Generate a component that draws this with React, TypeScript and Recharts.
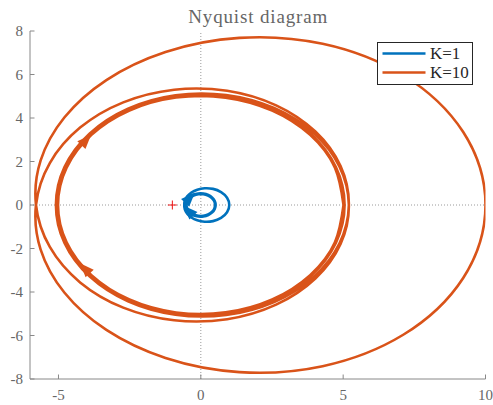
import React from 'react';
import { ComposedChart, Line, Scatter, XAxis, YAxis, ReferenceLine } from 'recharts';

// ---------- data ----------
const xTicks = [-5, 0, 5, 10];
const yTicks = [-8, -6, -4, -2, 0, 2, 4, 6, 8];

// K = 10, positive-frequency branch (real / imaginary parts)
const k10Re = [10, 9.217, 7.11, 4.279, 1.355, -1.24, -3.317, -4.794, -5.626, -5.79, -5.304, -4.24, -2.725, -0.935, 0.925, 2.645, 4.024, 4.909, 5.2,
  4.868, 3.954, 2.574, 0.891, -0.889, -2.557, -3.91, -4.789, -5.089, -4.776, -3.889, -2.536, -0.88, 0.879, 2.53, 3.873, 4.748, 5.05,
  4.744, 3.864, 2.522, 0.875, -0.875, -2.519, -3.857, -4.73, -5.032, -4.728, -3.853, -2.515, -0.873, 0.873, 2.513, 3.848, 4.72, 5.022,
  4.718, 3.845, 2.51, 0.871, -0.871, -2.509, -3.843, -4.714, -5.016, -4.714, -3.841, -2.508, -0.871, 0.87, 2.507, 3.841, 4.711, 5.013];
const k10Im = [0, -3.354, -5.966, -7.411, -7.684, -7.036, -5.745, -4.023, -2.048, 0, 1.93, 3.558, 4.72, 5.302, 5.25, 4.58, 3.377, 1.787, 0,
  -1.772, -3.318, -4.457, -5.056, -5.045, -4.428, -3.281, -1.743, 0, 1.738, 3.264, 4.392, 4.991, 4.987, 4.382, 3.25, 1.728, 0,
  -1.726, -3.243, -4.367, -4.964, -4.962, -4.362, -3.236, -1.722, 0, 1.721, 3.233, 4.355, 4.951, 4.95, 4.352, 3.229, 1.718, 0,
  -1.717, -3.227, -4.347, -4.943, -4.942, -4.346, -3.225, -1.716, 0, 1.715, 3.224, 4.343, 4.939, 4.938, 4.342, 3.223, 1.714, 0];

// K = 1, positive-frequency branch
const k1Re = [1, 0.9217, 0.711, 0.4279, 0.1355, -0.124, -0.3317, -0.4794, -0.5626, -0.579, -0.5304, -0.424, -0.2725, -0.0935, 0.0925, 0.2645, 0.4024, 0.4909, 0.52,
  0.4868, 0.3954, 0.2574, 0.0891, -0.0889, -0.2557, -0.391, -0.4789, -0.5089, -0.4776, -0.3889, -0.2536, -0.088, 0.0879, 0.253, 0.3873, 0.4748, 0.505,
  0.4744, 0.3864, 0.2522, 0.0875, -0.0875, -0.2519, -0.3857, -0.473, -0.5032, -0.4728, -0.3853, -0.2515, -0.0873, 0.0873, 0.2513, 0.3848, 0.472, 0.5022];
const k1Im = [0, -0.3354, -0.5966, -0.7411, -0.7684, -0.7036, -0.5745, -0.4023, -0.2048, 0, 0.193, 0.3558, 0.472, 0.5302, 0.525, 0.458, 0.3377, 0.1787, 0,
  -0.1772, -0.3318, -0.4457, -0.5056, -0.5045, -0.4428, -0.3281, -0.1743, 0, 0.1738, 0.3264, 0.4392, 0.4991, 0.4987, 0.4382, 0.325, 0.1728, 0,
  -0.1726, -0.3243, -0.4367, -0.4964, -0.4962, -0.4362, -0.3236, -0.1722, 0, 0.1721, 0.3233, 0.4355, 0.4951, 0.495, 0.4352, 0.3229, 0.1718, 0];

// direction arrows (positions on the curves)
const arrowK10Re = [-4.05, -4.05];
const arrowK10Im = [2.95, -2.95];
const arrowK1Re = [-0.405, -0.405];
const arrowK1Im = [0.295, -0.295];

const criticalRe = [-1];
const criticalIm = [0];

const seriesNames = ['K=1', 'K=10'];

// ---------- styling / geometry ----------
const W = 493;
const H = 405;
const PLOT_LEFT = 30;
const PLOT_RIGHT = 485.5;
const PLOT_TOP = 31;
const PLOT_BOTTOM = 379;
const SX = (PLOT_RIGHT - PLOT_LEFT) / 16;
const SY = (PLOT_BOTTOM - PLOT_TOP) / 16;
const BLUE = '#0072BD';
const ORANGE = '#D95319';
const AXIS = '#888888';
const TEXT = '#666666';
const FONT = '"Liberation Serif", "DejaVu Serif", serif';
const TICK = 4.5;
const LW = 2.6;

// full Nyquist contour: mirrored (negative-frequency) branch then positive branch
function contour(re: number[], im: number[]) {
  const pos = re.map((x, i) => ({ x, y: im[i] }));
  const neg = re.map((x, i) => ({ x, y: -im[i] })).reverse();
  return [...neg.slice(0, -1), ...pos];
}
function points(re: number[], im: number[]) {
  return re.map((x, i) => ({ x, y: im[i] }));
}

const k10Data = contour(k10Re, k10Im);
const k1Data = contour(k1Re, k1Im);
const k10Arrows = points(arrowK10Re, arrowK10Im);
const k1Arrows = points(arrowK1Re, arrowK1Im);
const criticalData = points(criticalRe, criticalIm);

const makeArrow = (color: string) => (props: any) => {
  const { cx, cy, payload } = props;
  if (cx == null || cy == null) return <g />;
  // clockwise tangent in pixel space
  const dx = payload.y * SX;
  const dy = payload.x * SY;
  const ang = (Math.atan2(dy, dx) * 180) / Math.PI;
  return (
    <polygon
      points="8,0 -6,-5.6 -6,5.6"
      fill={color}
      transform={`translate(${cx},${cy}) rotate(${ang})`}
    />
  );
};

const CrossShape = (props: any) => {
  const { cx, cy } = props;
  if (cx == null || cy == null) return <g />;
  return (
    <g stroke="#ee1111" strokeWidth={1}>
      <line x1={cx - 4.5} x2={cx + 4.5} y1={cy} y2={cy} />
      <line x1={cx} x2={cx} y1={cy - 4.5} y2={cy + 4.5} />
    </g>
  );
};

const BottomTick = (props: any) => {
  const { x, y, payload } = props;
  return (
    <g>
      <line x1={x} x2={x} y1={y} y2={y - TICK} stroke={AXIS} />
      <text x={x} y={y + 21} textAnchor="middle" fill={TEXT} fontSize={15} fontFamily={FONT}>
        {String(payload.value)}
      </text>
    </g>
  );
};
const TopTick = (props: any) => {
  const { x, y } = props;
  return <line x1={x} x2={x} y1={y} y2={y + TICK} stroke={AXIS} />;
};
const LeftTick = (props: any) => {
  const { x, y, payload } = props;
  return (
    <g>
      <line x1={x} x2={x + TICK} y1={y} y2={y} stroke={AXIS} />
      <text x={x - 7} y={y + 5} textAnchor="end" fill={TEXT} fontSize={15} fontFamily={FONT}>
        {String(payload.value)}
      </text>
    </g>
  );
};
const RightTick = (props: any) => {
  const { x, y } = props;
  return <line x1={x} x2={x - TICK} y1={y} y2={y} stroke={AXIS} />;
};

export default function App() {
  return (
    <div style={{ position: 'absolute', left: 0, top: 0, width: W, height: H, background: '#fff' }}>
      <ComposedChart
        width={W}
        height={H}
        margin={{ top: PLOT_TOP, right: W - PLOT_RIGHT, bottom: 0, left: 0 }}
      >
        <XAxis
          xAxisId={0}
          type="number"
          dataKey="x"
          domain={[-6, 10]}
          ticks={xTicks}
          interval={0}
          allowDataOverflow
          height={H - PLOT_BOTTOM}
          tickSize={0}
          tickMargin={0}
          tickLine={false}
          tick={<BottomTick />}
          axisLine={{ stroke: AXIS }}
        />
        <XAxis
          xAxisId="top"
          orientation="top"
          type="number"
          dataKey="x"
          domain={[-6, 10]}
          ticks={xTicks}
          interval={0}
          allowDataOverflow
          height={0}
          tickSize={0}
          tickMargin={0}
          tickLine={false}
          tick={<TopTick />}
          axisLine={{ stroke: AXIS }}
        />
        <YAxis
          yAxisId={0}
          type="number"
          dataKey="y"
          domain={[-8, 8]}
          ticks={yTicks}
          interval={0}
          allowDataOverflow
          width={PLOT_LEFT}
          tickSize={0}
          tickMargin={0}
          tickLine={false}
          tick={<LeftTick />}
          axisLine={{ stroke: AXIS }}
        />
        <YAxis
          yAxisId="right"
          orientation="right"
          type="number"
          dataKey="y"
          domain={[-8, 8]}
          ticks={yTicks}
          interval={0}
          allowDataOverflow
          width={0}
          tickSize={0}
          tickMargin={0}
          tickLine={false}
          tick={<RightTick />}
          axisLine={{ stroke: AXIS }}
        />
        <ReferenceLine x={0} stroke="#9a9a9a" strokeDasharray="1 2" strokeWidth={1} />
        <ReferenceLine y={0} stroke="#9a9a9a" strokeDasharray="1 2" strokeWidth={1} />
        <Scatter
          data={criticalData}
          dataKey="y"
          shape={CrossShape}
          isAnimationActive={false}
        />
        <Line
          data={k1Data}
          dataKey="y"
          type="natural"
          stroke={BLUE}
          strokeWidth={LW}
          dot={false}
          activeDot={false}
          isAnimationActive={false}
          name={seriesNames[0]}
        />
        <Line
          data={k10Data}
          dataKey="y"
          type="natural"
          stroke={ORANGE}
          strokeWidth={LW}
          dot={false}
          activeDot={false}
          isAnimationActive={false}
          name={seriesNames[1]}
        />
        <Scatter data={k1Arrows} dataKey="y" shape={makeArrow(BLUE)} isAnimationActive={false} />
        <Scatter data={k10Arrows} dataKey="y" shape={makeArrow(ORANGE)} isAnimationActive={false} />
      </ComposedChart>
      <svg
        width={W}
        height={H}
        style={{ position: 'absolute', left: 0, top: 0, pointerEvents: 'none' }}
      >
        <text
          x={(PLOT_LEFT + PLOT_RIGHT) / 2}
          y={22.5}
          textAnchor="middle"
          fill={TEXT}
          fontSize={19}
          fontFamily={FONT}
          textLength={139}
          lengthAdjust="spacing"
        >
          Nyquist diagram
        </text>
        <g transform="translate(377.5,42.5)">
          <rect x={0} y={0} width={95} height={42} fill="#fff" stroke="#262626" strokeWidth={1} />
          <line x1={5} x2={48} y1={11} y2={11} stroke={BLUE} strokeWidth={2.6} />
          <line x1={5} x2={48} y1={30} y2={30} stroke={ORANGE} strokeWidth={2.6} />
          <text x={52.5} y={16.5} fill="#262626" fontSize={17} fontFamily={FONT}>
            {seriesNames[0]}
          </text>
          <text x={52.5} y={35.5} fill="#262626" fontSize={17} fontFamily={FONT}>
            {seriesNames[1]}
          </text>
        </g>
      </svg>
    </div>
  );
}
